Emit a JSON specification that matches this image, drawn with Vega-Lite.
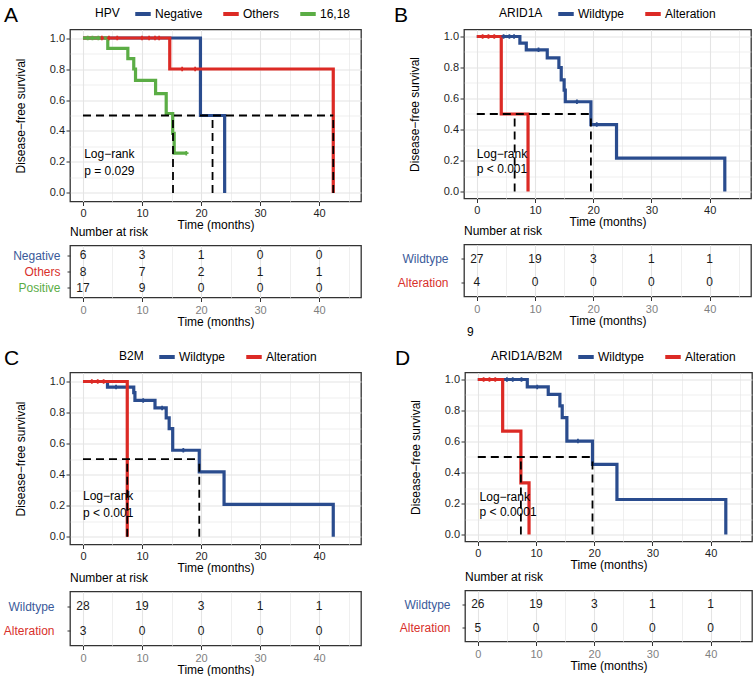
{
  "$schema": "https://vega.github.io/schema/vega-lite/v6.json",
  "autosize": {"type": "pad"},
  "padding": {"left": 2, "top": 2.5, "right": 0, "bottom": 0},
  "background": "white",
  "config": {
    "font": "Liberation Sans",
    "view": {"stroke": "#333333", "strokeWidth": 1.3},
    "axis": {
      "domain": false,
      "tickColor": "#333333",
      "tickSize": 4,
      "tickCount": 50,
      "labelPadding": 1.5,
      "labelFontSize": 11,
      "labelColor": "#1f1f1f",
      "titleFontSize": 12,
      "titleFontWeight": "normal",
      "titleColor": "#000000",
      "gridColor": "#e4e4e4"
    },
    "legend": {
      "orient": "none",
      "direction": "horizontal",
      "titleOrient": "left",
      "symbolType": "stroke",
      "symbolStrokeWidth": 4,
      "symbolSize": 240,
      "labelFontSize": 12,
      "titleFontSize": 12,
      "titleFontWeight": "normal",
      "labelColor": "#000000",
      "titleColor": "#000000",
      "columnPadding": 12,
      "labelOffset": 2,
      "titlePadding": 13,
      "padding": 0
    },
    "title": {"fontSize": 21, "fontWeight": "normal", "color": "#000000", "anchor": "start", "frame": "group"}
  },
  "datasets": {
    "kmA": [
      {"g": "Negative", "t": 0, "s": 1}, {"g": "Negative", "t": 19.9, "s": 0.5}, {"g": "Negative", "t": 24.0, "s": 0},
      {"g": "Others", "t": 0, "s": 1}, {"g": "Others", "t": 14.7, "s": 0.8}, {"g": "Others", "t": 42.4, "s": 0},
      {"g": "16,18", "t": 0, "s": 1}, {"g": "16,18", "t": 4.2, "s": 0.933}, {"g": "16,18", "t": 7.6, "s": 0.867},
      {"g": "16,18", "t": 8.6, "s": 0.8}, {"g": "16,18", "t": 8.9, "s": 0.727}, {"g": "16,18", "t": 12.3, "s": 0.641},
      {"g": "16,18", "t": 14.1, "s": 0.513}, {"g": "16,18", "t": 15.2, "s": 0.385}, {"g": "16,18", "t": 15.45, "s": 0.257},
      {"g": "16,18", "t": 17.5, "s": 0.257}
    ],
    "cenA": [
      {"g": "Others", "t": 3.2, "s": 1}, {"g": "Others", "t": 4.4, "s": 1}, {"g": "Others", "t": 5.8, "s": 1},
      {"g": "Others", "t": 10.0, "s": 1}, {"g": "Others", "t": 11.2, "s": 1}, {"g": "Others", "t": 12.2, "s": 1},
      {"g": "Others", "t": 12.9, "s": 1}, {"g": "Others", "t": 16.8, "s": 0.8}, {"g": "Others", "t": 19.0, "s": 0.8},
      {"g": "16,18", "t": 0.8, "s": 1}, {"g": "16,18", "t": 1.6, "s": 1}, {"g": "16,18", "t": 2.6, "s": 1},
      {"g": "16,18", "t": 17.5, "s": 0.257}
    ],
    "medA": [
      {"t": 0, "t2": 42.4, "s": 0.5, "s2": 0.5},
      {"t": 15.25, "t2": 15.25, "s": 0, "s2": 0.5},
      {"t": 21.95, "t2": 21.95, "s": 0, "s2": 0.5},
      {"t": 42.4, "t2": 42.4, "s": 0, "s2": 0.5}
    ],
    "lrA": [
      {"t": 0.2, "s": 0.253, "label": "Log\u2212rank"},
      {"t": 0.2, "s": 0.143, "label": "p = 0.029"}
    ],
    "riskA": [
      {"g": "Negative", "t": 0, "n": 6}, {"g": "Negative", "t": 10, "n": 3}, {"g": "Negative", "t": 20, "n": 1}, {"g": "Negative", "t": 30, "n": 0}, {"g": "Negative", "t": 40, "n": 0},
      {"g": "Others", "t": 0, "n": 8}, {"g": "Others", "t": 10, "n": 7}, {"g": "Others", "t": 20, "n": 2}, {"g": "Others", "t": 30, "n": 1}, {"g": "Others", "t": 40, "n": 1},
      {"g": "Positive", "t": 0, "n": 17}, {"g": "Positive", "t": 10, "n": 9}, {"g": "Positive", "t": 20, "n": 0}, {"g": "Positive", "t": 30, "n": 0}, {"g": "Positive", "t": 40, "n": 0}
    ],
    "kmB": [
      {"g": "Wildtype", "t": 0, "s": 1}, {"g": "Wildtype", "t": 7.4, "s": 0.957}, {"g": "Wildtype", "t": 8.5, "s": 0.914},
      {"g": "Wildtype", "t": 12.1, "s": 0.862}, {"g": "Wildtype", "t": 14.1, "s": 0.8}, {"g": "Wildtype", "t": 14.5, "s": 0.72},
      {"g": "Wildtype", "t": 15.0, "s": 0.654}, {"g": "Wildtype", "t": 15.2, "s": 0.579}, {"g": "Wildtype", "t": 19.6, "s": 0.432},
      {"g": "Wildtype", "t": 24.0, "s": 0.216}, {"g": "Wildtype", "t": 42.6, "s": 0},
      {"g": "Alteration", "t": 0, "s": 1}, {"g": "Alteration", "t": 4.2, "s": 0.5}, {"g": "Alteration", "t": 8.8, "s": 0}
    ],
    "cenB": [
      {"g": "Wildtype", "t": 4.6, "s": 1}, {"g": "Wildtype", "t": 5.6, "s": 1}, {"g": "Wildtype", "t": 6.4, "s": 1},
      {"g": "Wildtype", "t": 10.6, "s": 0.914}, {"g": "Wildtype", "t": 17.2, "s": 0.579}, {"g": "Wildtype", "t": 20.6, "s": 0.432},
      {"g": "Alteration", "t": 1.0, "s": 1}, {"g": "Alteration", "t": 2.0, "s": 1}, {"g": "Alteration", "t": 3.0, "s": 1}
    ],
    "medB": [
      {"t": 0, "t2": 19.6, "s": 0.5, "s2": 0.5},
      {"t": 6.5, "t2": 6.5, "s": 0, "s2": 0.5},
      {"t": 19.6, "t2": 19.6, "s": 0, "s2": 0.5}
    ],
    "lrB": [
      {"t": 0, "s": 0.245, "label": "Log\u2212rank"},
      {"t": 0, "s": 0.148, "label": "p < 0.001"}
    ],
    "riskB": [
      {"g": "Wildtype", "t": 0, "n": 27}, {"g": "Wildtype", "t": 10, "n": 19}, {"g": "Wildtype", "t": 20, "n": 3}, {"g": "Wildtype", "t": 30, "n": 1}, {"g": "Wildtype", "t": 40, "n": 1},
      {"g": "Alteration", "t": 0, "n": 4}, {"g": "Alteration", "t": 10, "n": 0}, {"g": "Alteration", "t": 20, "n": 0}, {"g": "Alteration", "t": 30, "n": 0}, {"g": "Alteration", "t": 40, "n": 0}
    ],
    "noteB": [{"t": -1.7, "label": "9"}],
    "kmC": [
      {"g": "Wildtype", "t": 0, "s": 1}, {"g": "Wildtype", "t": 4.15, "s": 0.964}, {"g": "Wildtype", "t": 8.6, "s": 0.928},
      {"g": "Wildtype", "t": 8.8, "s": 0.878}, {"g": "Wildtype", "t": 12.2, "s": 0.83}, {"g": "Wildtype", "t": 14.1, "s": 0.766},
      {"g": "Wildtype", "t": 14.6, "s": 0.697}, {"g": "Wildtype", "t": 15.2, "s": 0.557}, {"g": "Wildtype", "t": 19.7, "s": 0.418},
      {"g": "Wildtype", "t": 23.9, "s": 0.209}, {"g": "Wildtype", "t": 42.4, "s": 0},
      {"g": "Alteration", "t": 0, "s": 1}, {"g": "Alteration", "t": 7.5, "s": 0}
    ],
    "cenC": [
      {"g": "Wildtype", "t": 5.6, "s": 0.964}, {"g": "Wildtype", "t": 10.2, "s": 0.878}, {"g": "Wildtype", "t": 13.4, "s": 0.83},
      {"g": "Wildtype", "t": 17.0, "s": 0.557},
      {"g": "Alteration", "t": 1.5, "s": 1}, {"g": "Alteration", "t": 2.5, "s": 1}, {"g": "Alteration", "t": 3.5, "s": 1}
    ],
    "medC": [
      {"t": 0, "t2": 19.7, "s": 0.5, "s2": 0.5},
      {"t": 7.5, "t2": 7.5, "s": 0, "s2": 0.5},
      {"t": 19.7, "t2": 19.7, "s": 0, "s2": 0.5}
    ],
    "lrC": [
      {"t": 0, "s": 0.26, "label": "Log\u2212rank"},
      {"t": 0, "s": 0.153, "label": "p < 0.001"}
    ],
    "riskC": [
      {"g": "Wildtype", "t": 0, "n": 28}, {"g": "Wildtype", "t": 10, "n": 19}, {"g": "Wildtype", "t": 20, "n": 3}, {"g": "Wildtype", "t": 30, "n": 1}, {"g": "Wildtype", "t": 40, "n": 1},
      {"g": "Alteration", "t": 0, "n": 3}, {"g": "Alteration", "t": 10, "n": 0}, {"g": "Alteration", "t": 20, "n": 0}, {"g": "Alteration", "t": 30, "n": 0}, {"g": "Alteration", "t": 40, "n": 0}
    ],
    "kmD": [
      {"g": "Wildtype", "t": 0, "s": 1}, {"g": "Wildtype", "t": 8.5, "s": 0.952}, {"g": "Wildtype", "t": 12.1, "s": 0.904},
      {"g": "Wildtype", "t": 14.1, "s": 0.83}, {"g": "Wildtype", "t": 14.5, "s": 0.754}, {"g": "Wildtype", "t": 15.3, "s": 0.603},
      {"g": "Wildtype", "t": 19.7, "s": 0.452}, {"g": "Wildtype", "t": 23.9, "s": 0.226}, {"g": "Wildtype", "t": 42.6, "s": 0},
      {"g": "Alteration", "t": 0, "s": 1}, {"g": "Alteration", "t": 4.27, "s": 0.667}, {"g": "Alteration", "t": 7.4, "s": 0.333},
      {"g": "Alteration", "t": 8.8, "s": 0}
    ],
    "cenD": [
      {"g": "Wildtype", "t": 5.0, "s": 1}, {"g": "Wildtype", "t": 6.0, "s": 1}, {"g": "Wildtype", "t": 7.5, "s": 1},
      {"g": "Wildtype", "t": 10.2, "s": 0.952}, {"g": "Wildtype", "t": 17.2, "s": 0.603},
      {"g": "Alteration", "t": 1.0, "s": 1}, {"g": "Alteration", "t": 2.0, "s": 1}, {"g": "Alteration", "t": 3.0, "s": 1}
    ],
    "medD": [
      {"t": 0, "t2": 19.7, "s": 0.5, "s2": 0.5},
      {"t": 7.4, "t2": 7.4, "s": 0, "s2": 0.5},
      {"t": 19.7, "t2": 19.7, "s": 0, "s2": 0.5}
    ],
    "lrD": [
      {"t": 0.3, "s": 0.24, "label": "Log\u2212rank"},
      {"t": 0.3, "s": 0.143, "label": "p < 0.0001"}
    ],
    "riskD": [
      {"g": "Wildtype", "t": 0, "n": 26}, {"g": "Wildtype", "t": 10, "n": 19}, {"g": "Wildtype", "t": 20, "n": 3}, {"g": "Wildtype", "t": 30, "n": 1}, {"g": "Wildtype", "t": 40, "n": 1},
      {"g": "Alteration", "t": 0, "n": 5}, {"g": "Alteration", "t": 10, "n": 0}, {"g": "Alteration", "t": 20, "n": 0}, {"g": "Alteration", "t": 30, "n": 0}, {"g": "Alteration", "t": 40, "n": 0}
    ]
  },
  "resolve": {"scale": {"x": "independent", "y": "independent", "color": "independent"}, "legend": {"color": "independent"}},
  "bounds": "flush",
  "spacing": 343,
  "vconcat": [
    {
      "hconcat": [
        {
          "vconcat": [
            {
              "width": 291, "height": 172,
              "title": {"text": "A", "dx": -66, "dy": 22, "offset": 0},
              "layer": [
                {
                  "data": {"name": "kmA"},
                  "mark": {"type": "line", "interpolate": "step-after", "strokeWidth": 3.2},
                  "encoding": {
                    "x": {"field": "t", "type": "quantitative", "title": "Time (months)",
                      "scale": {"domain": [-2.2, 47.1], "nice": false, "zero": false},
                      "axis": {"values": [0, 5, 10, 15, 20, 25, 30, 35, 40, 45], "labelExpr": "datum.value % 10 === 0 ? datum.label : ''",
                        "tickOpacity": {"condition": {"test": "datum.value % 10 !== 0", "value": 0}, "value": 1},
                        "gridWidth": {"condition": {"test": "datum.value % 10 !== 0", "value": 0.6}, "value": 1.1},
                        "labelOverlap": false, "titlePadding": 1}},
                    "y": {"field": "s", "type": "quantitative", "title": "Disease\u2212free survival",
                      "scale": {"domain": [-0.055, 1.055], "nice": false, "zero": false},
                      "axis": {"values": [0, 0.1, 0.2, 0.3, 0.4, 0.5, 0.6, 0.7, 0.8, 0.9, 1], "labelExpr": "round(datum.value * 10) % 2 === 0 ? format(datum.value, '.1f') : ''",
                        "tickOpacity": {"condition": {"test": "round(datum.value * 10) % 2 === 1", "value": 0}, "value": 1},
                        "gridWidth": {"condition": {"test": "round(datum.value * 10) % 2 === 1", "value": 0.6}, "value": 1.1},
                        "labelOverlap": false, "titlePadding": 22}},
                    "color": {"field": "g", "type": "nominal", "title": "HPV",
                      "scale": {"domain": ["Negative", "Others", "16,18"], "range": ["#2A4C8E", "#DC2A25", "#5BAD45"]},
                      "legend": {"orient": "none", "legendX": 25, "legendY": -25.5, "symbolType": "stroke"}}
                  }
                },
                {
                  "data": {"name": "cenA"},
                  "mark": {"type": "point", "shape": "cross", "filled": true, "size": 20, "opacity": 1},
                  "encoding": {
                    "x": {"field": "t", "type": "quantitative", "title": "Time (months)"},
                    "y": {"field": "s", "type": "quantitative", "title": "Disease\u2212free survival"},
                    "color": {"field": "g", "type": "nominal", "legend": null}
                  }
                },
                {
                  "data": {"name": "medA"},
                  "mark": {"type": "rule", "color": "#000000", "strokeWidth": 1.8, "strokeDash": [8, 5]},
                  "encoding": {
                    "x": {"field": "t", "type": "quantitative", "title": "Time (months)"}, "x2": {"field": "t2"},
                    "y": {"field": "s", "type": "quantitative", "title": "Disease\u2212free survival"}, "y2": {"field": "s2"}
                  }
                },
                {
                  "data": {"name": "lrA"},
                  "mark": {"type": "text", "align": "left", "baseline": "middle", "fontSize": 12, "color": "#000000"},
                  "encoding": {
                    "x": {"field": "t", "type": "quantitative", "title": "Time (months)"},
                    "y": {"field": "s", "type": "quantitative", "title": "Disease\u2212free survival"},
                    "text": {"field": "label"}
                  }
                }
              ]
            },
            {
              "width": 291, "height": 52,
              "title": {"text": "Number at  risk", "fontSize": 12, "offset": 7},
              "data": {"name": "riskA"},
              "mark": {"type": "text", "fontSize": 12, "color": "#1a1a1a"},
              "encoding": {
                "x": {"field": "t", "type": "quantitative", "title": "Time (months)",
                  "scale": {"domain": [-2.2, 47.1], "nice": false, "zero": false},
                  "axis": {"values": [0, 5, 10, 15, 20, 25, 30, 35, 40, 45], "labelExpr": "datum.value % 10 === 0 ? datum.label : ''",
                    "tickOpacity": {"condition": {"test": "datum.value % 10 !== 0", "value": 0}, "value": 1},
                    "gridWidth": {"condition": {"test": "datum.value % 10 !== 0", "value": 0.6}, "value": 1.1},
                    "labelColor": "#7f7f7f", "labelOverlap": false, "labelPadding": 3, "titlePadding": 1}},
                "y": {"field": "g", "type": "nominal", "title": null, "sort": ["Negative", "Others", "Positive"],
                  "scale": {"type": "point", "padding": 0.6},
                  "axis": {"tickSize": 3, "labelPadding": 7, "labelFontSize": 12, "gridWidth": 1.1,
                    "labelColor": {"condition": [{"test": "datum.value === 'Negative'", "value": "#3A5A9A"}, {"test": "datum.value === 'Others'", "value": "#D8302B"}], "value": "#5BAD45"}}},
                "text": {"field": "n", "type": "quantitative"}
              }
            }
          ],
          "spacing": 44, "bounds": "flush",
          "resolve": {"scale": {"x": "independent", "y": "independent", "color": "independent"}, "legend": {"color": "independent"}}
        },
        {
          "vconcat": [
            {
              "width": 287, "height": 169,
              "title": {"text": "B", "dx": -70, "dy": 22, "offset": 0},
              "layer": [
                {
                  "data": {"name": "kmB"},
                  "mark": {"type": "line", "interpolate": "step-after", "strokeWidth": 3.2},
                  "encoding": {
                    "x": {"field": "t", "type": "quantitative", "title": "Time (months)",
                      "scale": {"domain": [-2.2, 47.1], "nice": false, "zero": false},
                      "axis": {"values": [0, 5, 10, 15, 20, 25, 30, 35, 40, 45], "labelExpr": "datum.value % 10 === 0 ? datum.label : ''",
                        "tickOpacity": {"condition": {"test": "datum.value % 10 !== 0", "value": 0}, "value": 1},
                        "gridWidth": {"condition": {"test": "datum.value % 10 !== 0", "value": 0.6}, "value": 1.1},
                        "labelOverlap": false, "titlePadding": 1}},
                    "y": {"field": "s", "type": "quantitative", "title": "Disease\u2212free survival",
                      "scale": {"domain": [-0.045, 1.045], "nice": false, "zero": false},
                      "axis": {"values": [0, 0.1, 0.2, 0.3, 0.4, 0.5, 0.6, 0.7, 0.8, 0.9, 1], "labelExpr": "round(datum.value * 10) % 2 === 0 ? format(datum.value, '.1f') : ''",
                        "tickOpacity": {"condition": {"test": "round(datum.value * 10) % 2 === 1", "value": 0}, "value": 1},
                        "gridWidth": {"condition": {"test": "round(datum.value * 10) % 2 === 1", "value": 0.6}, "value": 1.1},
                        "labelOverlap": false, "titlePadding": 22}},
                    "color": {"field": "g", "type": "nominal", "title": "ARID1A",
                      "scale": {"domain": ["Wildtype", "Alteration"], "range": ["#2A4C8E", "#DC2A25"]},
                      "legend": {"orient": "none", "legendX": 35, "legendY": -25.5, "symbolType": "stroke"}}
                  }
                },
                {
                  "data": {"name": "cenB"},
                  "mark": {"type": "point", "shape": "cross", "filled": true, "size": 20, "opacity": 1},
                  "encoding": {
                    "x": {"field": "t", "type": "quantitative", "title": "Time (months)"},
                    "y": {"field": "s", "type": "quantitative", "title": "Disease\u2212free survival"},
                    "color": {"field": "g", "type": "nominal", "legend": null}
                  }
                },
                {
                  "data": {"name": "medB"},
                  "mark": {"type": "rule", "color": "#000000", "strokeWidth": 1.8, "strokeDash": [8, 5]},
                  "encoding": {
                    "x": {"field": "t", "type": "quantitative", "title": "Time (months)"}, "x2": {"field": "t2"},
                    "y": {"field": "s", "type": "quantitative", "title": "Disease\u2212free survival"}, "y2": {"field": "s2"}
                  }
                },
                {
                  "data": {"name": "lrB"},
                  "mark": {"type": "text", "align": "left", "baseline": "middle", "fontSize": 12, "color": "#000000"},
                  "encoding": {
                    "x": {"field": "t", "type": "quantitative", "title": "Time (months)"},
                    "y": {"field": "s", "type": "quantitative", "title": "Disease\u2212free survival"},
                    "text": {"field": "label"}
                  }
                }
              ]
            },
            {
              "vconcat": [
                {
                  "width": 287, "height": 52,
                  "title": {"text": "Number at  risk", "fontSize": 12, "offset": 7},
                  "data": {"name": "riskB"},
                  "mark": {"type": "text", "fontSize": 12, "color": "#1a1a1a"},
                  "encoding": {
                    "x": {"field": "t", "type": "quantitative", "title": "Time (months)",
                      "scale": {"domain": [-2.2, 47.1], "nice": false, "zero": false},
                      "axis": {"values": [0, 5, 10, 15, 20, 25, 30, 35, 40, 45], "labelExpr": "datum.value % 10 === 0 ? datum.label : ''",
                        "tickOpacity": {"condition": {"test": "datum.value % 10 !== 0", "value": 0}, "value": 1},
                        "gridWidth": {"condition": {"test": "datum.value % 10 !== 0", "value": 0.6}, "value": 1.1},
                        "labelColor": "#7f7f7f", "labelOverlap": false, "labelPadding": 3, "titlePadding": 1}},
                    "y": {"field": "g", "type": "nominal", "title": null, "sort": ["Wildtype", "Alteration"],
                      "scale": {"type": "point", "padding": 0.6},
                      "axis": {"tickSize": 3, "labelPadding": 13, "labelFontSize": 12, "gridWidth": 1.1,
                        "labelColor": {"condition": {"test": "datum.value === 'Wildtype'", "value": "#3A5A9A"}, "value": "#D8302B"}}},
                    "text": {"field": "n", "type": "quantitative"}
                  }
                },
                {
                  "width": 287, "height": 12,
                  "view": {"stroke": null},
                  "data": {"name": "noteB"},
                  "mark": {"type": "text", "align": "left", "fontSize": 12, "color": "#000000"},
                  "encoding": {
                    "x": {"field": "t", "type": "quantitative", "scale": {"domain": [-2.2, 47.1], "nice": false, "zero": false}, "axis": null},
                    "text": {"field": "label"}
                  }
                }
              ],
              "spacing": 29, "bounds": "flush",
              "resolve": {"scale": {"x": "independent", "y": "independent"}}
            }
          ],
          "spacing": 46, "bounds": "flush",
          "resolve": {"scale": {"x": "independent", "y": "independent", "color": "independent"}, "legend": {"color": "independent"}}
        }
      ],
      "spacing": 394, "bounds": "flush",
      "resolve": {"scale": {"x": "independent", "y": "independent", "color": "independent"}, "legend": {"color": "independent"}}
    },
    {
      "hconcat": [
        {
          "vconcat": [
            {
              "width": 291, "height": 172,
              "title": {"text": "C", "dx": -66, "dy": 22, "offset": 0},
              "layer": [
                {
                  "data": {"name": "kmC"},
                  "mark": {"type": "line", "interpolate": "step-after", "strokeWidth": 3.2},
                  "encoding": {
                    "x": {"field": "t", "type": "quantitative", "title": "Time (months)",
                      "scale": {"domain": [-2.2, 47.1], "nice": false, "zero": false},
                      "axis": {"values": [0, 5, 10, 15, 20, 25, 30, 35, 40, 45], "labelExpr": "datum.value % 10 === 0 ? datum.label : ''",
                        "tickOpacity": {"condition": {"test": "datum.value % 10 !== 0", "value": 0}, "value": 1},
                        "gridWidth": {"condition": {"test": "datum.value % 10 !== 0", "value": 0.6}, "value": 1.1},
                        "labelOverlap": false, "titlePadding": 1}},
                    "y": {"field": "s", "type": "quantitative", "title": "Disease\u2212free survival",
                      "scale": {"domain": [-0.05, 1.058], "nice": false, "zero": false},
                      "axis": {"values": [0, 0.1, 0.2, 0.3, 0.4, 0.5, 0.6, 0.7, 0.8, 0.9, 1], "labelExpr": "round(datum.value * 10) % 2 === 0 ? format(datum.value, '.1f') : ''",
                        "tickOpacity": {"condition": {"test": "round(datum.value * 10) % 2 === 1", "value": 0}, "value": 1},
                        "gridWidth": {"condition": {"test": "round(datum.value * 10) % 2 === 1", "value": 0.6}, "value": 1.1},
                        "labelOverlap": false, "titlePadding": 22}},
                    "color": {"field": "g", "type": "nominal", "title": "B2M",
                      "scale": {"domain": ["Wildtype", "Alteration"], "range": ["#2A4C8E", "#DC2A25"]},
                      "legend": {"orient": "none", "legendX": 49, "legendY": -25.5, "symbolType": "stroke"}}
                  }
                },
                {
                  "data": {"name": "cenC"},
                  "mark": {"type": "point", "shape": "cross", "filled": true, "size": 20, "opacity": 1},
                  "encoding": {
                    "x": {"field": "t", "type": "quantitative", "title": "Time (months)"},
                    "y": {"field": "s", "type": "quantitative", "title": "Disease\u2212free survival"},
                    "color": {"field": "g", "type": "nominal", "legend": null}
                  }
                },
                {
                  "data": {"name": "medC"},
                  "mark": {"type": "rule", "color": "#000000", "strokeWidth": 1.8, "strokeDash": [8, 5]},
                  "encoding": {
                    "x": {"field": "t", "type": "quantitative", "title": "Time (months)"}, "x2": {"field": "t2"},
                    "y": {"field": "s", "type": "quantitative", "title": "Disease\u2212free survival"}, "y2": {"field": "s2"}
                  }
                },
                {
                  "data": {"name": "lrC"},
                  "mark": {"type": "text", "align": "left", "baseline": "middle", "fontSize": 12, "color": "#000000"},
                  "encoding": {
                    "x": {"field": "t", "type": "quantitative", "title": "Time (months)"},
                    "y": {"field": "s", "type": "quantitative", "title": "Disease\u2212free survival"},
                    "text": {"field": "label"}
                  }
                }
              ]
            },
            {
              "width": 291, "height": 54,
              "title": {"text": "Number at  risk", "fontSize": 12, "offset": 7},
              "data": {"name": "riskC"},
              "mark": {"type": "text", "fontSize": 12, "color": "#1a1a1a"},
              "encoding": {
                "x": {"field": "t", "type": "quantitative", "title": "Time (months)",
                  "scale": {"domain": [-2.2, 47.1], "nice": false, "zero": false},
                  "axis": {"values": [0, 5, 10, 15, 20, 25, 30, 35, 40, 45], "labelExpr": "datum.value % 10 === 0 ? datum.label : ''",
                    "tickOpacity": {"condition": {"test": "datum.value % 10 !== 0", "value": 0}, "value": 1},
                    "gridWidth": {"condition": {"test": "datum.value % 10 !== 0", "value": 0.6}, "value": 1.1},
                    "labelColor": "#7f7f7f", "labelOverlap": false, "labelPadding": 3, "titlePadding": 1}},
                "y": {"field": "g", "type": "nominal", "title": null, "sort": ["Wildtype", "Alteration"],
                  "scale": {"type": "point", "padding": 0.6},
                  "axis": {"tickSize": 3, "labelPadding": 13, "labelFontSize": 12, "gridWidth": 1.1,
                    "labelColor": {"condition": {"test": "datum.value === 'Wildtype'", "value": "#3A5A9A"}, "value": "#D8302B"}}},
                "text": {"field": "n", "type": "quantitative"}
              }
            }
          ],
          "spacing": 47, "bounds": "flush",
          "resolve": {"scale": {"x": "independent", "y": "independent", "color": "independent"}, "legend": {"color": "independent"}}
        },
        {
          "vconcat": [
            {
              "width": 287, "height": 169,
              "title": {"text": "D", "dx": -70, "dy": 22, "offset": 0},
              "layer": [
                {
                  "data": {"name": "kmD"},
                  "mark": {"type": "line", "interpolate": "step-after", "strokeWidth": 3.2},
                  "encoding": {
                    "x": {"field": "t", "type": "quantitative", "title": "Time (months)",
                      "scale": {"domain": [-2.2, 47.1], "nice": false, "zero": false},
                      "axis": {"values": [0, 5, 10, 15, 20, 25, 30, 35, 40, 45], "labelExpr": "datum.value % 10 === 0 ? datum.label : ''",
                        "tickOpacity": {"condition": {"test": "datum.value % 10 !== 0", "value": 0}, "value": 1},
                        "gridWidth": {"condition": {"test": "datum.value % 10 !== 0", "value": 0.6}, "value": 1.1},
                        "labelOverlap": false, "titlePadding": 1}},
                    "y": {"field": "s", "type": "quantitative", "title": "Disease\u2212free survival",
                      "scale": {"domain": [-0.045, 1.045], "nice": false, "zero": false},
                      "axis": {"values": [0, 0.1, 0.2, 0.3, 0.4, 0.5, 0.6, 0.7, 0.8, 0.9, 1], "labelExpr": "round(datum.value * 10) % 2 === 0 ? format(datum.value, '.1f') : ''",
                        "tickOpacity": {"condition": {"test": "round(datum.value * 10) % 2 === 1", "value": 0}, "value": 1},
                        "gridWidth": {"condition": {"test": "round(datum.value * 10) % 2 === 1", "value": 0.6}, "value": 1.1},
                        "labelOverlap": false, "titlePadding": 22}},
                    "color": {"field": "g", "type": "nominal", "title": "ARID1A/B2M",
                      "scale": {"domain": ["Wildtype", "Alteration"], "range": ["#2A4C8E", "#DC2A25"]},
                      "legend": {"orient": "none", "legendX": 26, "legendY": -25.5, "symbolType": "stroke"}}
                  }
                },
                {
                  "data": {"name": "cenD"},
                  "mark": {"type": "point", "shape": "cross", "filled": true, "size": 20, "opacity": 1},
                  "encoding": {
                    "x": {"field": "t", "type": "quantitative", "title": "Time (months)"},
                    "y": {"field": "s", "type": "quantitative", "title": "Disease\u2212free survival"},
                    "color": {"field": "g", "type": "nominal", "legend": null}
                  }
                },
                {
                  "data": {"name": "medD"},
                  "mark": {"type": "rule", "color": "#000000", "strokeWidth": 1.8, "strokeDash": [8, 5]},
                  "encoding": {
                    "x": {"field": "t", "type": "quantitative", "title": "Time (months)"}, "x2": {"field": "t2"},
                    "y": {"field": "s", "type": "quantitative", "title": "Disease\u2212free survival"}, "y2": {"field": "s2"}
                  }
                },
                {
                  "data": {"name": "lrD"},
                  "mark": {"type": "text", "align": "left", "baseline": "middle", "fontSize": 12, "color": "#000000"},
                  "encoding": {
                    "x": {"field": "t", "type": "quantitative", "title": "Time (months)"},
                    "y": {"field": "s", "type": "quantitative", "title": "Disease\u2212free survival"},
                    "text": {"field": "label"}
                  }
                }
              ]
            },
            {
              "width": 287, "height": 51,
              "title": {"text": "Number at  risk", "fontSize": 12, "offset": 7},
              "data": {"name": "riskD"},
              "mark": {"type": "text", "fontSize": 12, "color": "#1a1a1a"},
              "encoding": {
                "x": {"field": "t", "type": "quantitative", "title": "Time (months)",
                  "scale": {"domain": [-2.2, 47.1], "nice": false, "zero": false},
                  "axis": {"values": [0, 5, 10, 15, 20, 25, 30, 35, 40, 45], "labelExpr": "datum.value % 10 === 0 ? datum.label : ''",
                    "tickOpacity": {"condition": {"test": "datum.value % 10 !== 0", "value": 0}, "value": 1},
                    "gridWidth": {"condition": {"test": "datum.value % 10 !== 0", "value": 0.6}, "value": 1.1},
                    "labelColor": "#7f7f7f", "labelOverlap": false, "labelPadding": 3, "titlePadding": 1}},
                "y": {"field": "g", "type": "nominal", "title": null, "sort": ["Wildtype", "Alteration"],
                  "scale": {"type": "point", "padding": 0.6},
                  "axis": {"tickSize": 3, "labelPadding": 12, "labelFontSize": 12, "gridWidth": 1.1,
                    "labelColor": {"condition": {"test": "datum.value === 'Wildtype'", "value": "#3A5A9A"}, "value": "#D8302B"}}},
                "text": {"field": "n", "type": "quantitative"}
              }
            }
          ],
          "spacing": 49, "bounds": "flush",
          "resolve": {"scale": {"x": "independent", "y": "independent", "color": "independent"}, "legend": {"color": "independent"}}
        }
      ],
      "spacing": 395, "bounds": "flush",
      "resolve": {"scale": {"x": "independent", "y": "independent", "color": "independent"}, "legend": {"color": "independent"}}
    }
  ]
}
